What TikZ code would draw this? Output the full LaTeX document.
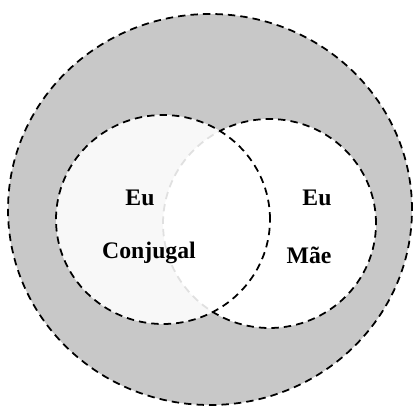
\documentclass[tikz,border=0pt]{standalone}
\usepackage{fontspec}
\setmainfont{Liberation Serif}
\usetikzlibrary{positioning}
\definecolor{ring}{HTML}{C8C8C8}
\definecolor{conj}{HTML}{F8F8F8}
\definecolor{faint}{HTML}{E0E0E0}

\begin{document}
\begin{tikzpicture}[
  dashline/.style={line width=1pt, dash pattern=on 4.2pt off 2.9pt},
  lbl/.style={font=\fontsize{13.5}{16}\selectfont\bfseries, inner sep=1pt}
]
  \useasboundingbox (0,0) rectangle (8.26,8.14);

  % outer ring
  \fill[ring] (4.2,3.95) ellipse [x radius=4.04, y radius=3.91];
  \draw[dashline] (4.2,3.95) ellipse [x radius=4.04, y radius=3.91];

  % eu conjugal and eu mae
  \fill[conj] (3.26,3.75) ellipse [x radius=2.14, y radius=2.09];
  \fill[white] (5.39,3.67) ellipse [x radius=2.13, y radius=2.09];
  \begin{scope}
    \clip (3.26,3.75) ellipse [x radius=2.14, y radius=2.09];
    \draw[dashline, faint] (5.39,3.67) ellipse [x radius=2.13, y radius=2.09];
  \end{scope}
  \begin{scope}[even odd rule]
    \clip (0,0) rectangle (8.26,8.14)
      (3.26,3.75) ellipse [x radius=2.14, y radius=2.09];
    \draw[dashline] (5.39,3.67) ellipse [x radius=2.13, y radius=2.09];
  \end{scope}
  \draw[dashline] (3.26,3.75) ellipse [x radius=2.14, y radius=2.09];

  \node[lbl] (eu1) at (2.8,4.18) {Eu};
  \node[lbl] (conjugal) at (2.98,3.08) {Conjugal};
  \node[lbl] (eu2) at (6.34,4.18) {Eu};
  \node[lbl] (mae) at (6.18,3.04) {Mãe};
\end{tikzpicture}
\end{document}
